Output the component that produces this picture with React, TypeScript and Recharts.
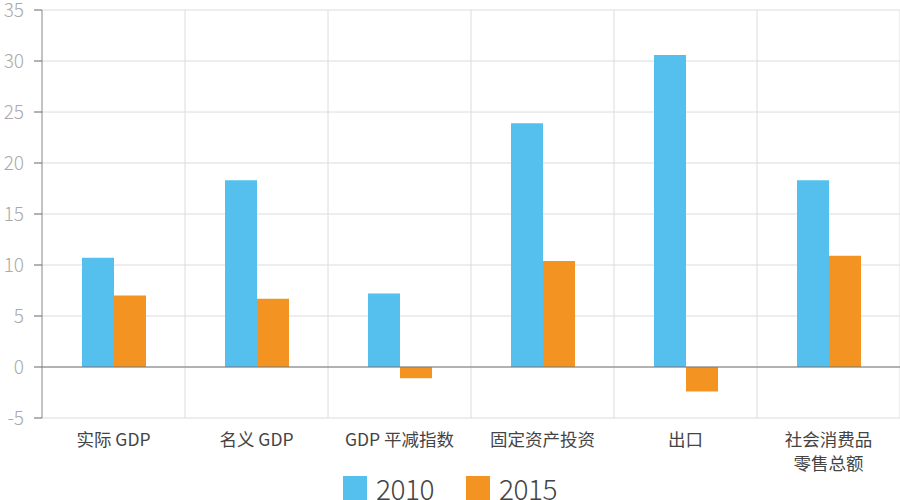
import { BarChart, Bar, XAxis, YAxis, CartesianGrid, ReferenceLine, Legend } from "recharts";

const categories = ["实际 GDP", "名义 GDP", "GDP 平减指数", "固定资产投资", "出口", "社会消费品\n零售总额"];
const values2010 = [10.7, 18.3, 7.2, 23.9, 30.6, 18.3];
const values2015 = [7.0, 6.7, -1.1, 10.4, -2.4, 10.9];
const yTicks = [-5, 0, 5, 10, 15, 20, 25, 30, 35];
const seriesNames = ["2010", "2015"];
const colors = ["#55C0EE", "#F39422"];

const data = categories.map((name, i) => ({
  name,
  v2010: values2010[i],
  v2015: values2015[i],
}));

const FONT = "'Noto Sans CJK SC', 'Noto Sans', sans-serif";

const CategoryTick = (props: any) => {
  const { x, y, payload } = props;
  const lines = String(payload.value).split("\n");
  return (
    <g transform={`translate(${x},${y})`}>
      {lines.map((line: string, i: number) => (
        <text
          key={i}
          x={0}
          y={20 + i * 24}
          textAnchor="middle"
          fill="#444"
          fontSize={17.5}
          fontFamily={FONT}
        >
          {line}
        </text>
      ))}
    </g>
  );
};

const LegendContent = () => (
  <div style={{ display: "flex", justifyContent: "center", gap: 32, fontFamily: FONT }}>
    {seriesNames.map((name, i) => (
      <div key={name} style={{ display: "flex", alignItems: "flex-start", gap: 9 }}>
        <div style={{ width: 24, height: 26, background: colors[i] }} />
        <span style={{ fontSize: 28, color: "#444", fontWeight: 300, lineHeight: "24px", letterSpacing: -0.5 }}>
          {name}
        </span>
      </div>
    ))}
  </div>
);

const App = () => {
  return (
    <div style={{ position: "absolute", left: 0, top: 0, width: 900, height: 500, background: "#fff", overflow: "hidden" }}>
      <BarChart
        width={900}
        height={500}
        data={data}
        margin={{ top: 10, right: 0, left: 0, bottom: 0 }}
        barGap={0}
        barSize={32}
      >
        <CartesianGrid
          stroke="#dcdcdc"
          verticalCoordinatesGenerator={({ offset }: any) =>
            categories.map((_, i) => offset.left + ((i + 1) * offset.width) / categories.length)
          }
        />
        <XAxis
          dataKey="name"
          axisLine={false}
          tickLine={false}
          height={50}
          interval={0}
          tick={<CategoryTick />}
        />
        <YAxis
          width={42}
          domain={[-5, 35]}
          ticks={yTicks}
          interval={0}
          axisLine={{ stroke: "#888" }}
          tickLine={{ stroke: "#666" }}
          tickSize={8}
          tickMargin={10}
          tick={{ fill: "#aaa", fontSize: 19, fontFamily: FONT, fontWeight: 300 }}
        />
        <ReferenceLine y={0} stroke="#777" />
        <Bar dataKey="v2010" name={seriesNames[0]} fill={colors[0]} isAnimationActive={false} />
        <Bar dataKey="v2015" name={seriesNames[1]} fill={colors[1]} isAnimationActive={false} />
        <Legend
          verticalAlign="bottom"
          height={32}
          content={<LegendContent />}
          wrapperStyle={{ left: 0, width: 900, bottom: -8 }}
        />
      </BarChart>
    </div>
  );
};

export default App;
